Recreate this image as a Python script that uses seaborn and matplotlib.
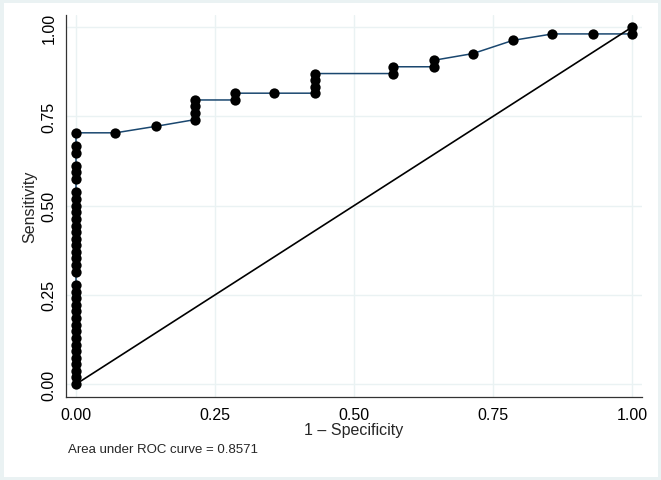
import matplotlib
matplotlib.use("Agg")
import matplotlib.pyplot as plt
import seaborn as sns
import pandas as pd

# ROC points (1 - specificity, sensitivity)
fpr = [0.0] * 35 + [
    0.071, 0.143, 0.214, 0.214, 0.214, 0.214, 0.286, 0.286, 0.357,
    0.429, 0.429, 0.429, 0.429, 0.571, 0.571, 0.643, 0.643, 0.714,
    0.786, 0.857, 0.929, 1.0, 1.0,
]
sens = [
    0.000, 0.019, 0.037, 0.056, 0.074, 0.093, 0.111, 0.130, 0.148, 0.167,
    0.185, 0.204, 0.222, 0.241, 0.259, 0.278, 0.315, 0.333, 0.352, 0.370,
    0.389, 0.407, 0.426, 0.444, 0.463, 0.481, 0.500, 0.519, 0.537, 0.574,
    0.593, 0.611, 0.648, 0.667, 0.704,
    0.704, 0.722, 0.741, 0.759, 0.778, 0.796, 0.796, 0.815, 0.815,
    0.815, 0.833, 0.852, 0.870, 0.870, 0.889, 0.889, 0.907, 0.926,
    0.963, 0.981, 0.981, 0.981, 1.000,
]
ref_x = [0.0, 1.0]
ref_y = [0.0, 1.0]
tick_vals = [0.0, 0.25, 0.5, 0.75, 1.0]
tick_labels = ["0.00", "0.25", "0.50", "0.75", "1.00"]
auc_text = "Area under ROC curve = 0.8571"

df = pd.DataFrame({"fpr": fpr, "sens": sens})
ref = pd.DataFrame({"x": ref_x, "y": ref_y})

sns.set_style("white")
plt.rcParams["font.family"] = ["Liberation Sans", "DejaVu Sans"]

fig = plt.figure(figsize=(6.61, 4.81), dpi=100)
fig.patch.set_facecolor("white")
fig.patch.set_edgecolor("#eaf2f3")
fig.patch.set_linewidth(5)
ax = fig.add_axes([66 / 661, 1 - 398 / 481, (642 - 66) / 661, (398 - 16) / 481])

grid_c = "#eaf2f3"
for v in tick_vals:
    ax.axhline(v, color=grid_c, lw=1.0, zorder=0)
    ax.axvline(v, color=grid_c, lw=1.0, zorder=0)

sns.lineplot(data=df, x="fpr", y="sens", sort=False, estimator=None,
             color="#1a476f", lw=1.1, ax=ax, zorder=2)
sns.scatterplot(data=df, x="fpr", y="sens", color="black", s=55,
                edgecolor="black", linewidth=0, ax=ax, zorder=3)
sns.lineplot(data=ref, x="x", y="y", color="black", lw=1.2, ax=ax, zorder=2)

ax.set_xlim(-0.018, 1.018)
ax.set_ylim(-0.036, 1.034)
ax.set_xticks(tick_vals)
ax.set_xticklabels(tick_labels, fontsize=11.5)
ax.set_yticks(tick_vals)
ax.set_yticklabels(tick_labels, fontsize=11.5, rotation=90, va="center")
ax.tick_params(axis="both", direction="out", length=5, width=0.8,
               color="#333333", labelcolor="black", pad=2)
ax.set_xlabel("1 \u2013 Specificity", fontsize=11.5, labelpad=0)
ax.set_ylabel("Sensitivity", fontsize=11.5, labelpad=3)

for s in ["top", "right"]:
    ax.spines[s].set_visible(False)
for s in ["left", "bottom"]:
    ax.spines[s].set_color("#333333")
    ax.spines[s].set_linewidth(0.9)
ax.set_facecolor("white")

fig.text(68 / 661, 1 - 450 / 481, auc_text, fontsize=9.5, va="center", ha="left")

fig.savefig("out.png", dpi=100, facecolor=fig.get_facecolor(),
            edgecolor=fig.get_edgecolor())
